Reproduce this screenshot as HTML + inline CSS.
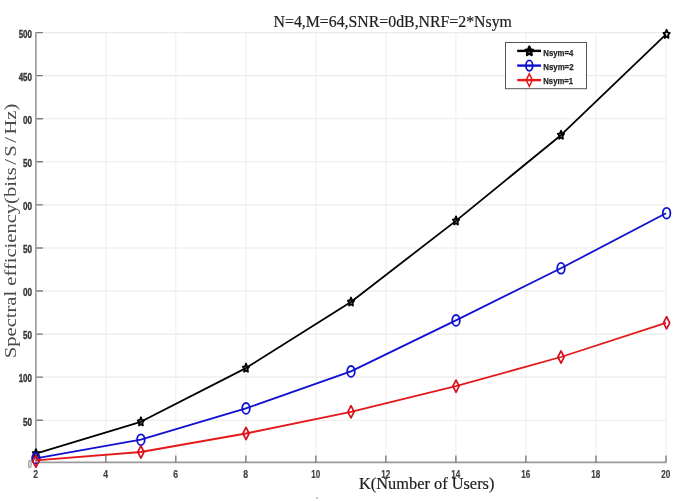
<!DOCTYPE html>
<html><head><meta charset="utf-8">
<style>
html,body{margin:0;padding:0;background:#fff;width:685px;height:501px;overflow:hidden}
svg{display:block;filter:blur(0.35px)}
.tk{font-family:"Liberation Sans",sans-serif;font-weight:bold;font-size:11.4px;fill:#383838;stroke:#383838;stroke-width:0.4px}
.tx{font-family:"Liberation Sans",sans-serif;font-weight:bold;font-size:11.8px;fill:#404040;stroke:#404040;stroke-width:0.2px}
.lg{font-family:"Liberation Sans",sans-serif;font-weight:bold;font-size:9.3px;fill:#262626;stroke:#262626;stroke-width:0.25px}
.sf{font-family:"Liberation Serif",serif;fill:#1e1e1e;stroke:#1e1e1e;stroke-width:0.2px}
</style></head><body>
<svg width="685" height="501" viewBox="0 0 685 501">
<rect width="685" height="501" fill="#fff"/>
<g stroke-width="1.1" fill="none"><path stroke="#eaeaea" d="M36 32.60H666M36 75.67H666M36 118.74H666M36 161.81H666M36 204.88H666M36 247.95H666M36 291.02H666M36 334.09H666M36 377.16H666M36 420.23H666"/><path stroke="#efefef" d="M105.8 32.6V462.4M175.8 32.6V462.4M245.9 32.6V462.4M315.9 32.6V462.4M385.9 32.6V462.4M455.9 32.6V462.4M525.9 32.6V462.4M596.0 32.6V462.4M666.0 32.6V462.4"/></g>
<path d="M35.9 32.0V463.29999999999995M35 462.4H666.3" stroke="#9a9a9a" stroke-width="1.6" fill="none"/>
<path d="M36.5 32.60h6.4M36.5 75.67h6.4M36.5 118.74h6.4M36.5 161.81h6.4M36.5 204.88h6.4M36.5 247.95h6.4M36.5 291.02h6.4M36.5 334.09h6.4M36.5 377.16h6.4M36.5 420.23h6.4M105.8 462.4v-7M175.8 462.4v-7M245.9 462.4v-7M315.9 462.4v-7M385.9 462.4v-7M455.9 462.4v-7M525.9 462.4v-7M596.0 462.4v-7M666.0 462.4v-7" stroke="#7c7c7c" stroke-width="1.4" fill="none"/>
<g class="tk" text-anchor="end">
<text x="32" y="37.90" textLength="13.3" lengthAdjust="spacingAndGlyphs">500</text>
<text x="32" y="80.97" textLength="13.3" lengthAdjust="spacingAndGlyphs">450</text>
<text x="32" y="124.04" textLength="9.0" lengthAdjust="spacingAndGlyphs">00</text>
<text x="32" y="167.11" textLength="9.0" lengthAdjust="spacingAndGlyphs">50</text>
<text x="32" y="210.18" textLength="9.0" lengthAdjust="spacingAndGlyphs">00</text>
<text x="32" y="253.25" textLength="9.0" lengthAdjust="spacingAndGlyphs">50</text>
<text x="32" y="296.32" textLength="9.0" lengthAdjust="spacingAndGlyphs">00</text>
<text x="32" y="339.39" textLength="9.0" lengthAdjust="spacingAndGlyphs">50</text>
<text x="32" y="382.46" textLength="13.3" lengthAdjust="spacingAndGlyphs">100</text>
<text x="32" y="425.53" textLength="9.0" lengthAdjust="spacingAndGlyphs">50</text>
<text x="32" y="467.70" textLength="4.2" lengthAdjust="spacingAndGlyphs" style="fill:#a0a0a0;stroke:#a0a0a0">0</text>
</g>
<g class="tx" text-anchor="middle">
<text x="35.6" y="478.2" textLength="4.8" lengthAdjust="spacingAndGlyphs">2</text>
<text x="105.6" y="478.2" textLength="4.8" lengthAdjust="spacingAndGlyphs">4</text>
<text x="175.6" y="478.2" textLength="4.8" lengthAdjust="spacingAndGlyphs">6</text>
<text x="245.7" y="478.2" textLength="4.8" lengthAdjust="spacingAndGlyphs">8</text>
<text x="315.7" y="478.2" textLength="9.0" lengthAdjust="spacingAndGlyphs">10</text>
<text x="385.7" y="478.2" textLength="9.0" lengthAdjust="spacingAndGlyphs">12</text>
<text x="455.7" y="478.2" textLength="9.0" lengthAdjust="spacingAndGlyphs">14</text>
<text x="525.7" y="478.2" textLength="9.0" lengthAdjust="spacingAndGlyphs">16</text>
<text x="595.8" y="478.2" textLength="9.0" lengthAdjust="spacingAndGlyphs">18</text>
<text x="665.8" y="478.2" textLength="9.0" lengthAdjust="spacingAndGlyphs">20</text>
</g>
<text class="sf" x="273.6" y="27" font-size="16.3" textLength="238.3" lengthAdjust="spacingAndGlyphs">N=4,M=64,SNR=0dB,NRF=2*Nsym</text>
<text class="sf" x="359" y="488.7" font-size="16.8" textLength="135.4" lengthAdjust="spacingAndGlyphs">K(Number of Users)</text>
<text class="sf" transform="translate(16.1 358.2) rotate(-90) scale(1 0.835)" x="0" y="0" font-size="20.58" style="fill:#4a4a4a;stroke:none">Spectral efficiency(bits<tspan dx="2.5">/</tspan><tspan dx="2.5">S</tspan><tspan dx="2.5">/</tspan><tspan dx="2.5">Hz)</tspan></text>
<defs><path id="dia" d="M0,-6.1L3.1,0L0,6.1L-3.1,0Z"/><path id="star" d="M0.00,-4.50L0.97,-1.82L3.14,-1.39L1.57,0.70L1.94,3.64L0.00,2.25L-1.94,3.64L-1.57,0.70L-3.14,-1.39L-0.97,-1.82Z"/><path id="star2" d="M0.00,-4.60L1.15,-1.86L3.71,-1.42L1.85,0.71L2.29,3.72L0.00,2.30L-2.29,3.72L-1.85,0.71L-3.71,-1.42L-1.15,-1.86Z"/></defs>
<polyline fill="none" stroke-width="1.8" stroke-linejoin="round" stroke="#000" points="35.8,453.6 140.8,421.8 245.9,368.1 350.9,302.0 455.9,220.9 560.9,135.2 666.0,34.3"/>
<g fill="none" stroke="#000" stroke-width="1.8" stroke-linejoin="round"><use href="#star" x="35.9" y="453.6"/><use href="#star" x="140.9" y="421.8"/><use href="#star" x="246.0" y="368.1"/><use href="#star" x="351.0" y="302.0"/><use href="#star" x="456.0" y="220.9"/><use href="#star" x="561.0" y="135.2"/><use href="#star" x="666.6" y="34.3"/></g>
<polyline fill="none" stroke-width="1.8" stroke-linejoin="round" stroke="#1010d0" points="35.8,458.4 140.8,439.7 245.9,408.4 350.9,371.4 455.9,320.4 560.9,268.3 666.0,213.2"/>
<g fill="none" stroke="#1010d0" stroke-width="1.8"><ellipse cx="35.9" cy="458.4" rx="3.8" ry="5.4"/><ellipse cx="140.9" cy="439.7" rx="3.8" ry="5.4"/><ellipse cx="246.0" cy="408.4" rx="3.8" ry="5.4"/><ellipse cx="351.0" cy="371.4" rx="3.8" ry="5.4"/><ellipse cx="456.0" cy="320.4" rx="3.8" ry="5.4"/><ellipse cx="561.0" cy="268.3" rx="3.8" ry="5.4"/><ellipse cx="666.6" cy="213.2" rx="3.8" ry="5.4"/></g>
<polyline fill="none" stroke-width="1.8" stroke-linejoin="round" stroke="#e41818" points="35.8,460.4 140.8,452.0 245.9,433.5 350.9,411.8 455.9,386.2 560.9,357.0 666.0,322.8"/>
<g fill="none" stroke="#d41020" stroke-width="1.7" stroke-linejoin="round"><use href="#dia" x="35.9" y="461.2"/><use href="#dia" x="140.9" y="452.0"/><use href="#dia" x="246.0" y="433.5"/><use href="#dia" x="351.0" y="411.8"/><use href="#dia" x="456.0" y="386.2"/><use href="#dia" x="561.0" y="357.0"/><use href="#dia" x="666.6" y="322.8"/></g>
<circle cx="317" cy="498" r="0.8" fill="#888"/>
<rect x="505.5" y="42.5" width="81" height="46.2" fill="#fff" stroke="#555" stroke-width="1"/>
<g stroke-width="2.4" fill="none">
<path d="M517.2 50.9H541" stroke="#000"/>
<path d="M517.2 65.6H541" stroke="#1010d0"/>
<path d="M517.2 80.1H541" stroke="#e41818"/>
</g>
<use href="#star2" x="529.3" y="51.3" fill="none" stroke="#000" stroke-width="2.4" stroke-linejoin="round"/>
<ellipse cx="529.3" cy="65.6" rx="3.4" ry="5.2" fill="none" stroke="#1010d0" stroke-width="1.8"/>
<path d="M529.3,73.8L532.4,80.1L529.3,86.4L526.2,80.1Z" fill="none" stroke="#e41818" stroke-width="1.5"/>
<g class="lg">
<text x="543.3" y="56.1" textLength="30" lengthAdjust="spacingAndGlyphs">Nsym=4</text>
<text x="543.3" y="70.0" textLength="30.2" lengthAdjust="spacingAndGlyphs">Nsym=2</text>
<text x="543.3" y="84.4" textLength="29.8" lengthAdjust="spacingAndGlyphs">Nsym=1</text>
</g>
</svg>
</body></html>
